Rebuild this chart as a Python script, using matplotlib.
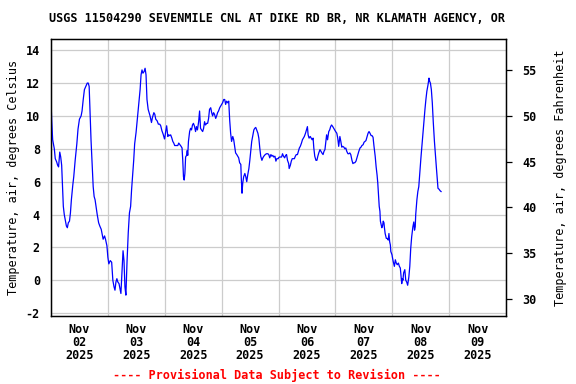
import numpy as np
import pandas as pd
import matplotlib
matplotlib.use('Agg')
import matplotlib.pyplot as plt
import matplotlib.dates as mdates
import matplotlib.ticker as mticker

# hours since 2025-11-02 00:00 and air temperature (deg C)
hours = [
    0.0, 0.3, 0.7, 1.4, 1.8, 2.4, 2.8, 3.2, 3.7, 4.1, 4.5, 4.8, 5.2, 5.6, 6.1,
    6.5, 6.9, 7.3, 7.8, 8.2, 8.6, 9.2, 9.6, 10.2, 10.9, 11.4, 12.0, 12.7, 13.1,
    13.6, 14.1, 14.7, 15.3, 15.7, 16.1, 16.5, 16.9, 17.4, 17.8, 18.2, 18.6,
    19.1, 19.5, 20.1, 20.6, 21.2, 21.6, 22.0, 22.6, 23.0, 23.6, 24.0, 24.4,
    25.0, 25.6, 26.1, 26.6, 27.0, 27.4, 27.8, 28.2, 28.7, 29.1, 29.5, 29.9,
    30.4, 30.8, 31.2, 31.6, 32.1, 32.6, 33.1, 33.6, 34.0, 34.5, 34.9, 35.3,
    35.9, 36.3, 36.7, 37.1, 37.6, 38.0, 38.4, 38.8, 39.3, 39.7, 40.1, 40.5,
    41.0, 41.4, 41.8, 42.4, 42.8, 43.4, 43.8, 44.2, 44.8, 45.3, 45.9, 46.3,
    46.8, 47.3, 47.9,
    48.0, 48.4, 48.8, 49.3, 49.7, 50.1, 50.5, 51.0, 51.4, 51.8, 52.2, 52.9,
    53.5, 53.9, 54.4, 54.9, 55.3, 55.6, 55.9, 56.2, 56.5, 56.8, 57.2, 57.5,
    57.7, 58.0, 58.5, 58.9, 59.3, 59.7, 60.1, 60.6, 61.0, 61.4, 61.8, 62.3,
    62.7, 63.1, 63.5, 64.0, 64.4, 64.8, 65.2, 65.7, 66.1, 66.5, 66.9, 67.4,
    67.8, 68.2, 68.6, 69.0, 69.5, 69.9, 70.3, 70.7, 71.2, 71.6, 72.0, 72.4,
    72.9, 73.3, 73.7, 74.1, 74.6, 75.0, 75.4, 75.8, 76.2, 76.7, 77.1, 77.5,
    77.9, 78.4, 78.8, 79.2, 79.6, 80.1, 80.3, 80.6, 80.9, 81.3, 81.8, 82.2,
    82.6, 83.0, 83.5, 83.9, 84.3, 84.7, 85.1, 85.6, 86.0, 86.4, 86.8, 87.3,
    87.7, 88.1, 88.5, 89.0, 89.4, 89.8, 90.4, 90.9, 91.5, 91.9, 92.3, 92.8,
    93.2, 93.6, 94.0, 94.5, 94.9, 95.3, 95.9,
    96.0, 96.4, 96.9, 97.3, 97.7, 98.1, 98.6, 99.0, 99.4, 99.8, 100.3, 100.5,
    101.0, 101.4, 101.8, 102.3, 102.7, 103.1, 103.5, 104.0, 104.4, 104.8,
    105.2, 105.7, 106.1, 106.5, 106.9, 107.4, 107.8, 108.2, 108.5, 108.9,
    109.4, 109.8, 110.2, 110.6, 110.9, 111.3, 111.8, 112.2, 112.6, 113.0,
    113.5, 113.9, 114.3, 114.8, 115.2, 115.6, 116.0, 116.3, 116.7, 117.2,
    117.6, 118.0, 118.4, 118.9, 119.3, 119.7, 120.1, 120.6, 121.0, 121.4,
    121.9, 122.3, 122.7, 123.1, 123.6, 124.0, 124.4, 124.8, 125.3, 125.7,
    126.1, 126.5, 127.0, 127.4, 127.8, 128.2, 128.7, 129.1, 129.5, 129.9,
    130.4, 130.8, 131.2, 131.7, 132.1, 132.5, 132.9, 133.4, 133.8, 134.2,
    134.6, 135.1, 135.5, 135.9, 136.3, 136.8, 137.2, 137.6, 137.9, 138.2,
    138.5, 138.8, 139.0, 139.3, 139.6, 139.9, 140.2, 140.5, 140.7, 141.0,
    141.5, 141.9, 142.3, 142.6, 142.9, 143.2, 143.4, 143.9,
    144.0, 144.4, 144.9, 145.3, 145.7, 146.1, 146.6, 147.0, 147.4, 147.7,
    148.0, 148.3, 148.5, 148.8, 149.3, 149.7, 150.1, 150.5, 151.0, 151.4,
    151.8, 152.2, 152.7, 153.1, 153.4, 153.7, 153.9, 154.4, 154.8, 155.2,
    155.6, 156.1, 156.5, 156.9, 157.4, 157.8, 158.2, 158.6, 159.1, 159.5,
    159.8, 160.1, 160.5, 160.9, 161.3, 161.8, 162.2, 162.6, 163.0, 163.3,
    163.7, 164.2, 164.6,
]

temp_c = [
    10.9, 9.7, 8.55, 8.0, 7.4, 7.2, 7.0, 6.9, 7.8, 7.5, 7.0, 5.9, 4.5, 4.0, 3.6,
    3.3, 3.2, 3.5, 3.6, 4.1, 4.9, 5.8, 6.3, 7.3, 8.3, 9.2, 9.8, 10.0, 10.3,
    11.0, 11.6, 11.8, 12.0, 12.0, 11.8, 10.1, 8.5, 6.9, 5.7, 5.1, 4.9,
    4.4, 4.0, 3.5, 3.3, 3.1, 2.8, 2.5, 2.7, 2.5, 2.1, 1.4, 1.0,
    1.2, 1.1, 0.0, -0.4, -0.6, -0.1, 0.1, -0.1, -0.2, -0.5, -0.8, 0.4,
    1.8, 1.2, -0.4, -0.9, 1.2, 2.9, 4.1, 4.5, 5.5, 6.5, 7.3, 8.3,
    9.0, 9.6, 10.2, 10.8, 11.6, 12.5, 12.8, 12.6, 12.7, 12.9, 12.5, 11.0,
    10.4, 10.2, 10.0, 9.6, 9.9, 10.2, 10.1, 9.8, 9.7, 9.5, 9.5, 9.4,
    9.1, 8.9, 8.6,
    8.65, 9.05, 9.4, 8.75, 8.85, 8.8, 8.85, 8.65, 8.45, 8.35, 8.2, 8.2,
    8.2, 8.35, 8.25, 8.15, 8.05, 7.3, 6.3, 6.1, 6.5, 7.5, 7.6, 7.9,
    7.6, 8.45, 9.05, 9.25, 9.15, 9.45, 9.55, 9.35, 9.05, 9.35, 9.15, 9.65,
    10.3, 9.25, 9.15, 9.05, 9.25, 9.65, 9.45, 9.55, 9.55, 9.85, 10.4, 10.5,
    10.2, 10.0, 10.2, 10.1, 9.85, 10.0, 10.2, 10.3, 10.5, 10.6, 10.7, 10.8,
    11.0, 11.0, 10.7, 10.9, 10.8, 10.9, 9.75, 8.95, 8.45, 8.75, 8.55, 8.15,
    7.75, 7.65, 7.55, 7.45, 7.15, 7.05, 6.2, 5.3, 5.9, 6.3, 6.5, 6.3,
    6.0, 6.4, 6.8, 7.3, 7.9, 8.45, 8.75, 9.15, 9.25, 9.3, 9.15, 8.95,
    8.65, 8.05, 7.55, 7.3, 7.45, 7.55, 7.65, 7.7, 7.7, 7.65, 7.45, 7.65,
    7.55, 7.6, 7.5, 7.55, 7.25, 7.4, 7.4,
    7.45, 7.5, 7.5, 7.5, 7.7, 7.55, 7.45, 7.6, 7.65, 7.3, 7.1, 6.8,
    7.0, 7.25, 7.4, 7.4, 7.4, 7.55, 7.65, 7.65, 7.85, 8.05,
    8.15, 8.35, 8.55, 8.65, 8.75, 8.95, 9.15, 9.35, 8.85, 8.65,
    8.75, 8.65, 8.55, 8.65, 8.05, 7.55, 7.3, 7.3, 7.55, 7.75,
    7.95, 7.85, 7.75, 7.65, 7.85, 7.95, 8.45, 8.85, 8.55, 9.05,
    9.15, 9.35, 9.45, 9.35, 9.25, 9.15, 9.05, 8.95, 8.65, 8.15,
    8.75, 8.45, 8.1, 8.15, 8.1, 8.0, 8.05, 7.85, 7.7, 7.7,
    7.75, 7.65, 7.3, 7.1, 7.15, 7.15, 7.25, 7.45, 7.65, 7.85,
    8.05, 8.1, 8.2, 8.25, 8.4, 8.45, 8.5, 8.75, 8.95, 9.05,
    8.95, 8.8, 8.8, 8.7, 8.15, 7.55, 6.9, 6.4, 5.9, 5.2,
    4.5, 4.2, 3.6, 3.4, 3.2, 3.3, 3.6, 3.5, 3.2, 2.85,
    2.55, 2.55, 2.45, 2.85, 2.35, 2.15, 1.75, 1.55,
    1.45, 1.15, 0.85, 1.25, 1.05, 0.95, 1.05, 0.85, 0.75, 0.3,
    -0.2, 0.1, 0.0, 0.45, 0.65, 0.0, -0.1, -0.3, 0.2, 0.85,
    1.95, 2.65, 3.25, 3.55, 3.05, 3.25, 4.0, 4.9, 5.4, 5.7,
    6.5, 7.45, 8.15, 8.85, 9.75, 10.4, 11.0, 11.5, 11.9, 12.3,
    12.1, 12.0, 11.6, 10.8, 9.65, 8.45, 7.65, 6.9, 6.2, 5.6,
    5.55, 5.45, 5.4,
]

start = pd.Timestamp('2025-11-02')
end = pd.Timestamp('2025-11-10')
times = start + pd.to_timedelta(hours, unit='h')

title = 'USGS 11504290 SEVENMILE CNL AT DIKE RD BR, NR KLAMATH AGENCY, OR'
ylabel_c = 'Temperature, air, degrees Celsius'
ylabel_f = 'Temperature, air, degrees Fahrenheit'
footer = '---- Provisional Data Subject to Revision ----'
c_ticks = [-2, 0, 2, 4, 6, 8, 10, 12, 14]
f_ticks = [30, 35, 40, 45, 50, 55]
c_lim = (-2.17, 14.68)

plt.rcParams['font.family'] = 'DejaVu Sans Mono'
plt.rcParams['font.weight'] = 'bold'
plt.rcParams['font.size'] = 8.5

fig = plt.figure(figsize=(5.76, 3.84), dpi=100)
ax = fig.add_axes([51 / 576, 68 / 384, 455 / 576, 277 / 384])

ax.plot(times, temp_c, color='#0000ff', lw=0.9, zorder=3)

ax.set_xlim(start, end)
ax.set_ylim(*c_lim)
ax.set_yticks(c_ticks)
ax.yaxis.set_major_formatter(mticker.FormatStrFormatter('%d'))

# gridlines at midnight, labels at noon
ax.xaxis.set_major_locator(mdates.DayLocator())
ax.xaxis.set_major_formatter(mticker.NullFormatter())
ax.xaxis.set_minor_locator(mdates.HourLocator(byhour=[12]))
ax.xaxis.set_minor_formatter(mdates.DateFormatter('%b\n%d\n%Y'))
ax.tick_params(axis='x', which='both', length=0)
ax.tick_params(axis='x', which='minor', pad=5)
for lab in ax.xaxis.get_minorticklabels():
    lab.set_linespacing(1.02)
ax.tick_params(axis='y', length=0, pad=8)

ax.grid(True, which='major', color='#cccccc', lw=0.9)
ax.set_axisbelow(True)
for s in ax.spines.values():
    s.set_linewidth(1.0)
    s.set_color('black')

ax.set_ylabel(ylabel_c, labelpad=4)

# Fahrenheit axis
ax2 = ax.twinx()
ax2.set_ylim(c_lim[0] * 1.8 + 32, c_lim[1] * 1.8 + 32)
ax2.set_yticks(f_ticks)
ax2.tick_params(axis='y', length=4, width=0.9, pad=8, direction='out')
ax2.set_ylabel(ylabel_f, labelpad=12)

fig.text(277 / 576, 1 - 19 / 384, title, ha='center', va='center')
fig.text(277 / 576, 1 - 375 / 384, footer, ha='center', va='center',
         color='#ff0000')

fig.savefig('out.png', dpi=100)
